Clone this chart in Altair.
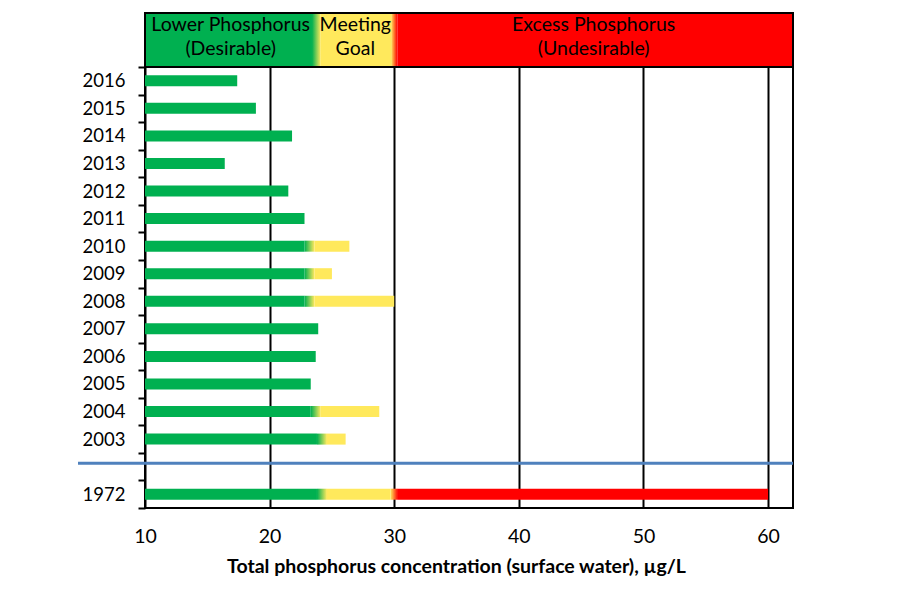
import altair as alt
import pandas as pd

# ---- data ----
years = ["2016", "2015", "2014", "2013", "2012", "2011", "2010", "2009",
         "2008", "2007", "2006", "2005", "2004", "2003", "1972"]
values = [17.4, 18.9, 21.8, 16.4, 21.5, 22.8, 26.4, 25.0,
          30.0, 23.9, 23.7, 23.3, 28.8, 26.1, 60.0]
# where each bar's fill turns from green to yellow (None = all green)
green_to_yellow = [None, None, None, None, None, None, 23.2, 23.2,
                   23.2, None, None, None, 23.7, 24.2, 24.2]
GOAL_MAX = 30.0            # yellow -> red
categories = years[:14] + [" "] + ["1972"]

zone_bounds = [10.0, 23.75, 30.0, 62.0]
zone_labels = ["Lower Phosphorus\n(Desirable)", "Meeting\nGoal",
               "Excess Phosphorus\n(Undesirable)"]
x_ticks = [10, 20, 30, 40, 50, 60]
XMIN, XMAX = 10.0, 62.0

GREEN, YELLOW, RED = "#00B050", "#FFE95C", "#FF0000"
BLUE = "#4F81BD"
FONT = "Lato"

# ---- build bar segments ----
rows = []
for y, v, t in zip(years, values, green_to_yellow):
    if t is None:
        rows.append(dict(cat=y, x0=XMIN, x1=v, kind="green"))
        continue
    rows.append(dict(cat=y, x0=XMIN, x1=t - 0.4, kind="green"))
    rows.append(dict(cat=y, x0=t - 0.4, x1=t + 0.4, kind="gy"))
    if v <= GOAL_MAX:
        rows.append(dict(cat=y, x0=t + 0.4, x1=v, kind="yellow"))
    else:
        rows.append(dict(cat=y, x0=t + 0.4, x1=GOAL_MAX - 0.3, kind="yellow"))
        rows.append(dict(cat=y, x0=GOAL_MAX - 0.3, x1=GOAL_MAX + 0.3, kind="yr"))
        rows.append(dict(cat=y, x0=GOAL_MAX + 0.3, x1=v, kind="red"))
segs = pd.DataFrame(rows)

b0, b1, b2, b3 = zone_bounds
header = pd.DataFrame([
    dict(x0=b0, x1=b1 - 0.35, kind="green"),
    dict(x0=b1 - 0.35, x1=b1 + 0.35, kind="gy"),
    dict(x0=b1 + 0.35, x1=b2 - 0.25, kind="yellow"),
    dict(x0=b2 - 0.25, x1=b2 + 0.25, kind="yr"),
    dict(x0=b2 + 0.25, x1=b3, kind="red"),
])
header_text = pd.DataFrame(dict(
    label=zone_labels,
    lo=zone_bounds[:-1],
    hi=zone_bounds[1:],
))
frame = pd.DataFrame([dict(x0=XMIN, x1=XMAX)])
gap = pd.DataFrame([dict(cat=" ")])

W, H = 648, 441
HEADER_H = 54

grad_gy = alt.Gradient(gradient="linear", x1=0, x2=1, y1=0, y2=0,
                       stops=[alt.GradientStop(color=GREEN, offset=0),
                              alt.GradientStop(color=YELLOW, offset=1)])
grad_yr = alt.Gradient(gradient="linear", x1=0, x2=1, y1=0, y2=0,
                       stops=[alt.GradientStop(color=YELLOW, offset=0),
                              alt.GradientStop(color=RED, offset=1)])
fills = {"green": GREEN, "yellow": YELLOW, "red": RED, "gy": grad_gy, "yr": grad_yr}

x_scale = alt.Scale(domain=[XMIN, XMAX], nice=False, zero=False)
y_scale = alt.Scale(domain=categories, paddingInner=0, paddingOuter=0)

x_axis = alt.Axis(values=x_ticks, grid=True, gridColor="black", gridWidth=2,
                  domain=False, ticks=False, labelFont=FONT, labelFontSize=19.5,
                  labelColor="black", labelPadding=19, labelFlush=False,
                  title="Total phosphorus concentration (surface water), µg/L",
                  titleFont=FONT, titleFontSize=19.5, titleFontWeight="bold",
                  titleColor="black", titlePadding=12, titleX=311, titleAlign="center")
y_axis = alt.Axis(tickBand="extent", ticks=True, tickColor="black", tickWidth=2,
                  tickSize=7, domain=False, grid=False, labelFont=FONT,
                  labelFontSize=18.5, labelColor="black", labelPadding=13)

x_enc = alt.X("x0:Q", scale=x_scale, axis=x_axis)
y_enc = alt.Y("cat:N", scale=y_scale, title=None, axis=y_axis)

layers = []
for kind, fill in fills.items():
    layers.append(
        alt.Chart(segs).transform_filter(alt.datum.kind == kind)
        .mark_bar(color=fill, height={"band": 0.4})
        .encode(x=x_enc, x2="x1:Q", y=y_enc)
    )
for kind, fill in fills.items():
    layers.append(
        alt.Chart(header).transform_filter(alt.datum.kind == kind)
        .mark_rect(color=fill)
        .encode(x=x_enc, x2="x1:Q", y=alt.value(-HEADER_H), y2=alt.value(0))
    )
layers.append(
    alt.Chart(frame).mark_rect(fill="transparent", stroke="black", strokeWidth=2)
    .encode(x=x_enc, x2="x1:Q", y=alt.value(-HEADER_H), y2=alt.value(0))
)
layers.append(
    alt.Chart(header_text)
    .transform_calculate(x0="(datum.lo + datum.hi) / 2")
    .mark_text(font=FONT, fontSize=19.5, color="black", align="center",
               baseline="alphabetic", lineBreak="\n", lineHeight=23.5)
    .encode(x=x_enc, y=alt.value(-36), text="label:N")
)
layers.append(
    alt.Chart(gap).mark_rule(color=BLUE, strokeWidth=3)
    .encode(y=alt.Y("cat:N", scale=y_scale, bandPosition=0.38, axis=y_axis, title=None),
            x=alt.value(-67), x2=alt.value(W))
)

chart = alt.layer(*layers).properties(
    width=W, height=H,
    autosize=alt.AutoSizeParams(type="none"),
    padding={"left": 137, "top": 59, "right": 30, "bottom": 90},
    background="white",
).configure_view(stroke="black", strokeWidth=2)

chart.save("out.html", embed_options={"renderer": "svg", "actions": False})
